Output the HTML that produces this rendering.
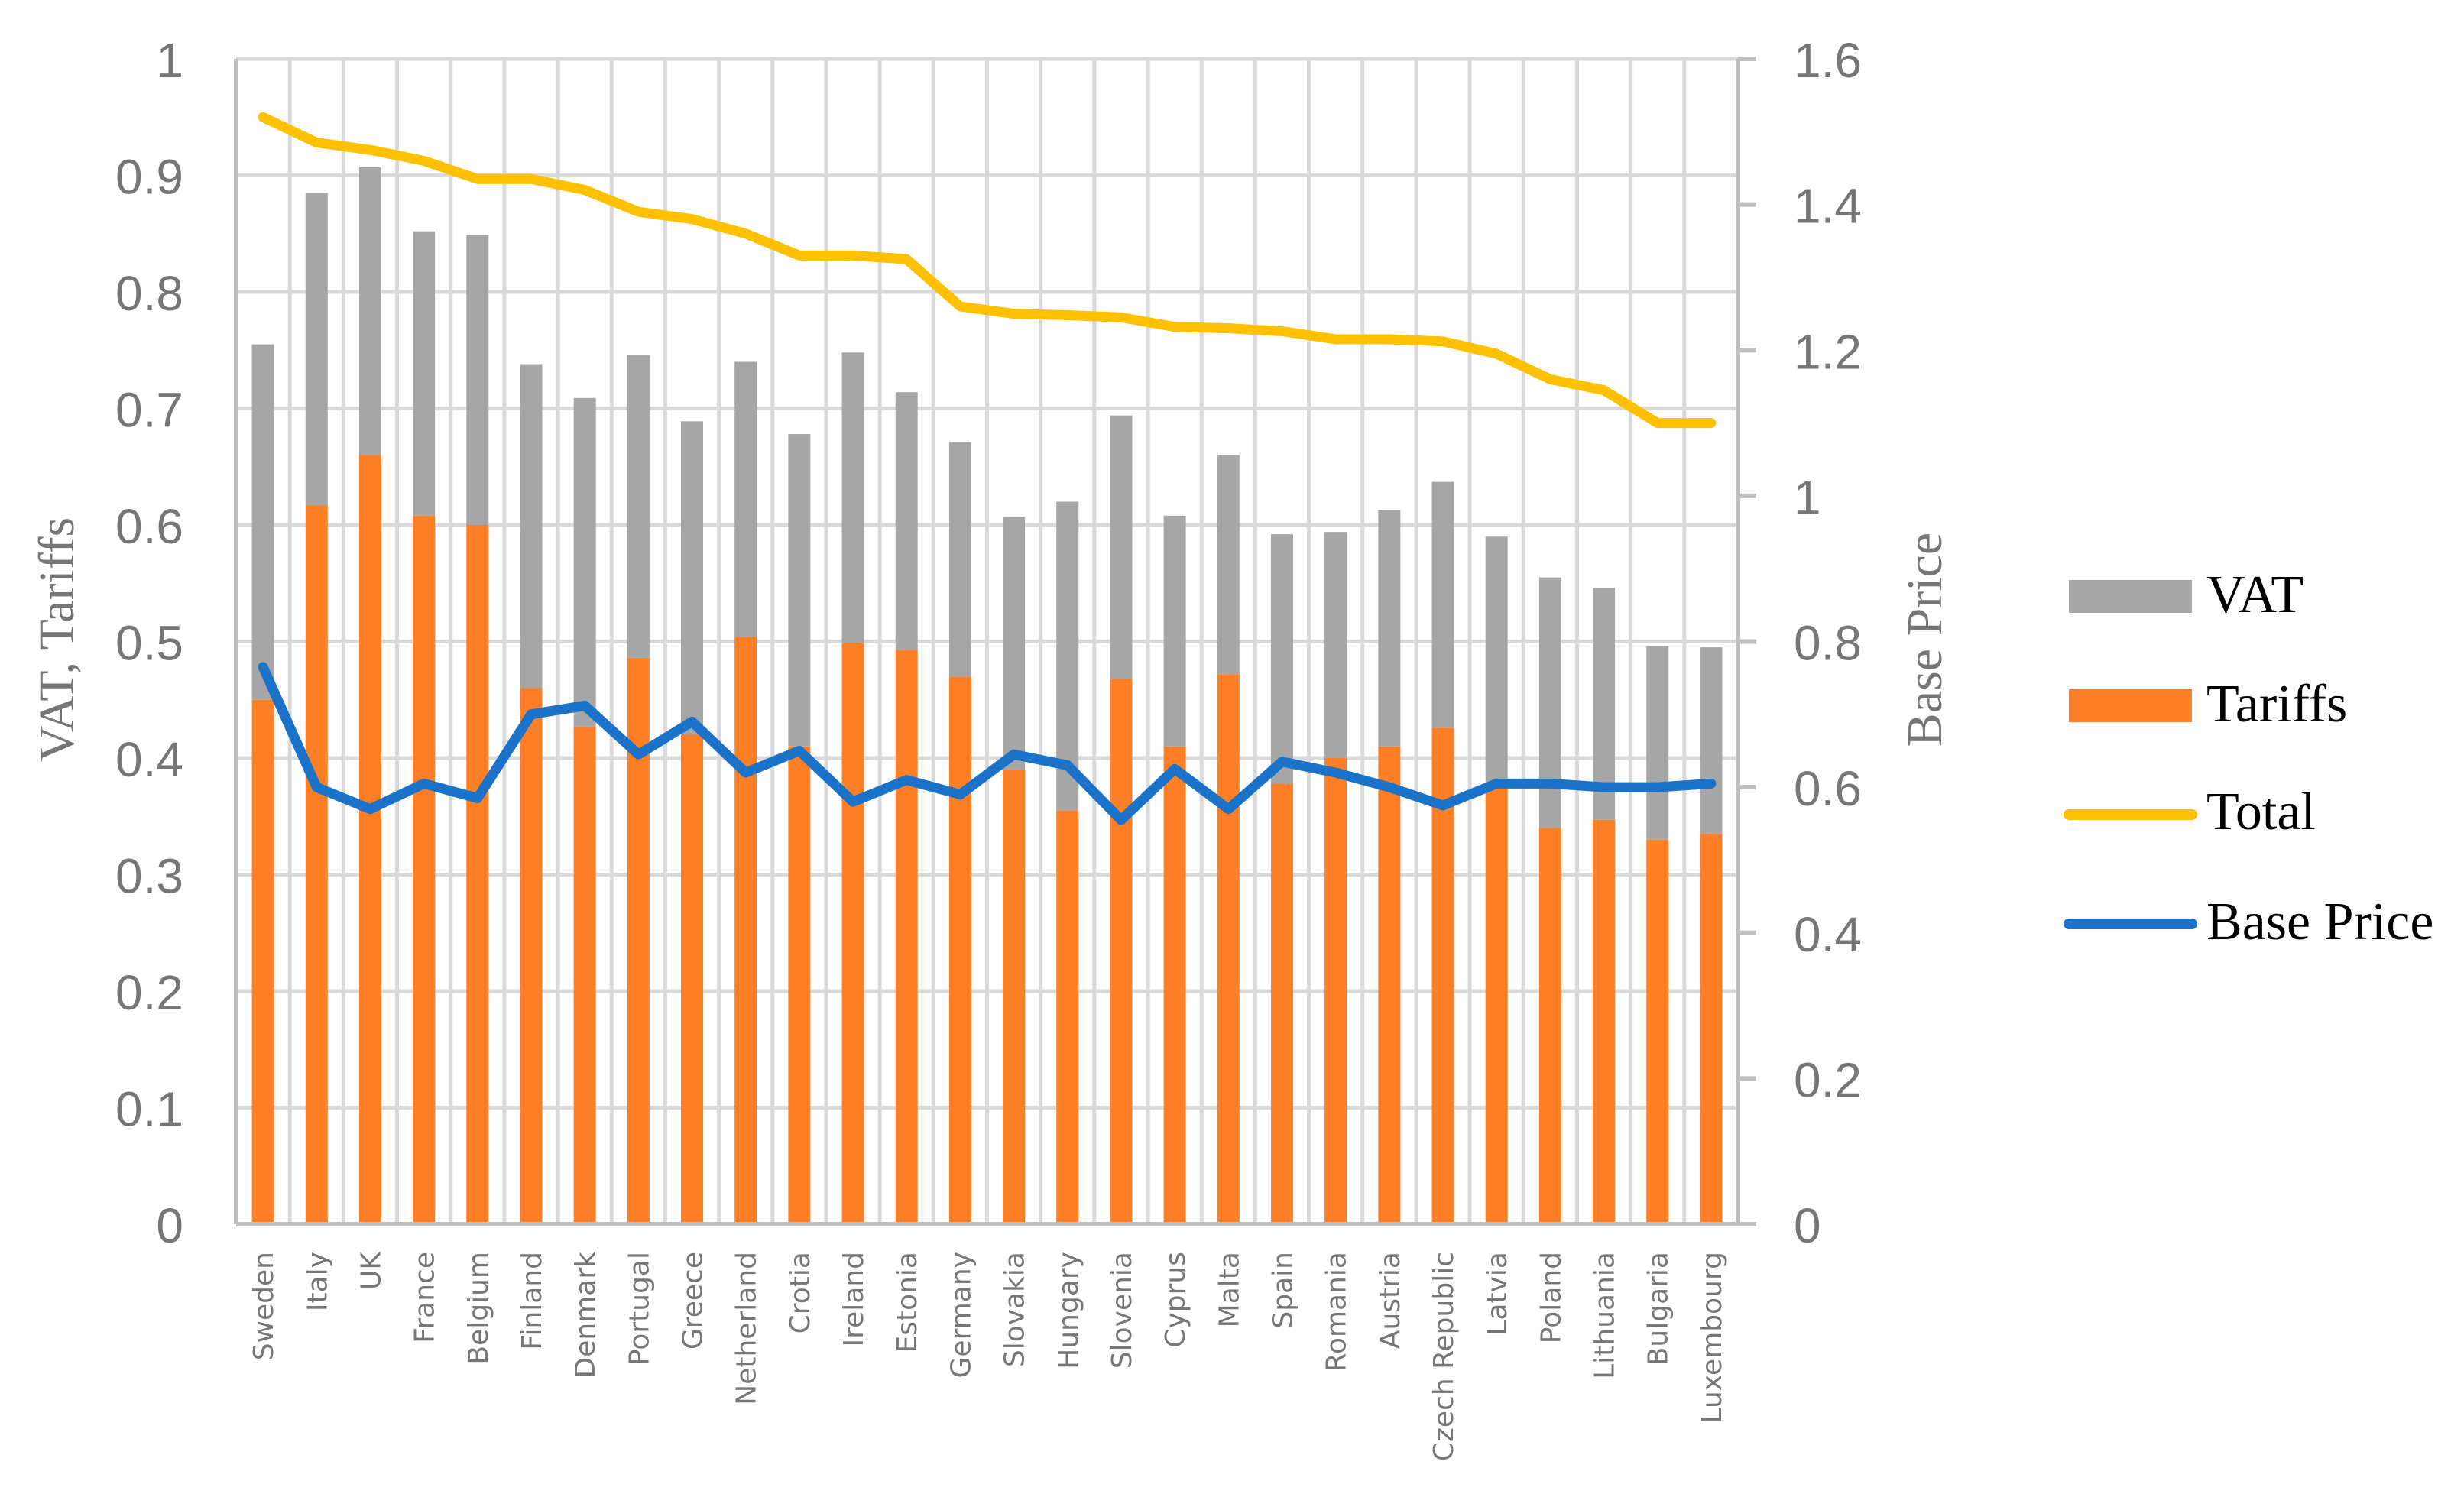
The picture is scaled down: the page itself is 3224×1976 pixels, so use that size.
<!DOCTYPE html>
<html><head><meta charset="utf-8"><style>
html,body{margin:0;padding:0;background:#fff;}
svg{display:block;}
</style></head><body>
<svg id="chart" width="3224" height="1976" viewBox="0 0 3224 1976" xmlns="http://www.w3.org/2000/svg">
<g id="grid"></g>
<g id="bars"></g>
<g id="lines"></g>
<g id="axes"></g>
<text transform="translate(96,837) rotate(-90)" text-anchor="middle" font-family="Liberation Serif, serif" font-size="66" fill="#767676">VAT, Tariffs</text>
<text transform="translate(2540,837) rotate(-90)" text-anchor="middle" font-family="Liberation Serif, serif" font-size="66" fill="#767676">Base Price</text>
<g font-family="Liberation Serif, serif" font-size="70" fill="#000">
  <g><rect x="2707" y="759" width="161" height="43" fill="#A6A6A6"/><text x="2887" y="801">VAT</text></g>
  <g><rect x="2707" y="902" width="161" height="43" fill="#FF7F27"/><text x="2887" y="944">Tariffs</text></g>
  <g><line x1="2707" y1="1066" x2="2868" y2="1066" stroke="#FFC000" stroke-width="14" stroke-linecap="round"/><text x="2887" y="1085">Total</text></g>
  <g><line x1="2707" y1="1209" x2="2868" y2="1209" stroke="#1A73C8" stroke-width="14" stroke-linecap="round"/><text x="2887" y="1229">Base Price</text></g>
</g>
</svg>
<script>
const categories = ["Sweden","Italy","UK","France","Belgium","Finland","Denmark","Portugal","Greece","Netherland","Crotia","Ireland","Estonia","Germany","Slovakia","Hungary","Slovenia","Cyprus","Malta","Spain","Romania","Austria","Czech Republic","Latvia","Poland","Lithuania","Bulgaria","Luxembourg"];
const tariffs = [0.45,0.617,0.66,0.608,0.60,0.46,0.427,0.486,0.42,0.504,0.41,0.499,0.493,0.47,0.39,0.355,0.468,0.41,0.472,0.378,0.40,0.41,0.426,0.375,0.34,0.347,0.33,0.335];
const vat = [0.305,0.268,0.247,0.244,0.249,0.278,0.282,0.26,0.269,0.236,0.268,0.249,0.221,0.201,0.217,0.265,0.226,0.198,0.188,0.214,0.194,0.203,0.211,0.215,0.215,0.199,0.166,0.16];
const total = [1.52,1.485,1.475,1.46,1.435,1.435,1.42,1.39,1.38,1.36,1.33,1.33,1.325,1.26,1.25,1.248,1.245,1.232,1.23,1.226,1.215,1.215,1.212,1.195,1.16,1.145,1.10,1.10];
const basePrice = [0.765,0.60,0.57,0.605,0.585,0.70,0.712,0.645,0.69,0.62,0.65,0.58,0.61,0.59,0.645,0.63,0.555,0.625,0.57,0.635,0.62,0.60,0.575,0.605,0.605,0.60,0.60,0.605];
const leftTicks = ["0","0.1","0.2","0.3","0.4","0.5","0.6","0.7","0.8","0.9","1"];
const rightTicks = ["0","0.2","0.4","0.6","0.8","1","1.2","1.4","1.6"];

const NS="http://www.w3.org/2000/svg";
const X0=309, X1=2274, Y0=1602, Y1=77;
const step=(X1-X0)/categories.length;
const yL=v=>Y0-(v/1)*(Y0-Y1);
const yR=v=>Y0-(v/1.6)*(Y0-Y1);
const xC=i=>X0+step*(i+0.5);
function mk(tag,attrs,parent){const e=document.createElementNS(NS,tag);for(const k in attrs)e.setAttribute(k,attrs[k]);parent.appendChild(e);return e;}
const grid=document.getElementById('grid'),bars=document.getElementById('bars'),lines=document.getElementById('lines'),axes=document.getElementById('axes');
leftTicks.forEach((t,i)=>{const v=parseFloat(t);if(v===0)return;
 const l=mk('line',{x1:X0,x2:X1,y1:yL(v),y2:yL(v),stroke:'#D9D9D9','stroke-width':5},grid);
 
 });
for(let i=1;i<categories.length;i++){
 const l=mk('line',{x1:X0+step*i,x2:X0+step*i,y1:Y1,y2:Y0,stroke:'#D9D9D9','stroke-width':5},grid);
 
 }
const bw=29;
categories.forEach((c,i)=>{
 const t=mk('rect',{x:xC(i)-bw/2,y:yL(tariffs[i]),width:bw,height:Y0-yL(tariffs[i]),fill:'#FF7F27'},bars);
 
 
 const top=tariffs[i]+vat[i];
 const v=mk('rect',{x:xC(i)-bw/2,y:yL(top),width:bw,height:yL(tariffs[i])-yL(top),fill:'#A6A6A6'},bars);
 
 
});
const tp=mk('polyline',{points:total.map((v,i)=>xC(i)+','+yR(v)).join(' '),fill:'none',stroke:'#FFC000','stroke-width':13,'stroke-linejoin':'round','stroke-linecap':'round'},lines);


const bp=mk('polyline',{points:basePrice.map((v,i)=>xC(i)+','+yR(v)).join(' '),fill:'none',stroke:'#1A73C8','stroke-width':13,'stroke-linejoin':'round','stroke-linecap':'round'},lines);


const al=mk('line',{x1:X0,x2:X0,y1:Y1,y2:Y0,stroke:'#BFBFBF','stroke-width':6},axes);


const ar=mk('line',{x1:X1,x2:X1,y1:Y1,y2:Y0,stroke:'#BFBFBF','stroke-width':6},axes);


const ab=mk('line',{x1:X0,x2:X1+24,y1:Y0,y2:Y0,stroke:'#BFBFBF','stroke-width':6},axes);


leftTicks.forEach(t=>{
 const e=mk('text',{x:240,y:yL(parseFloat(t))+24,'text-anchor':'end','font-family':'Liberation Sans, sans-serif','font-size':64,fill:'#767676'},axes);
 e.textContent=t;
 
 });
rightTicks.forEach(t=>{
 const y=yR(parseFloat(t));
 const tk=mk('line',{x1:X1,x2:X1+24,y1:y,y2:y,stroke:'#BFBFBF','stroke-width':6},axes);
 
 
 const e=mk('text',{x:2347,y:y+24,'text-anchor':'start','font-family':'Liberation Sans, sans-serif','font-size':64,fill:'#767676'},axes);
 e.textContent=t;
 
 });
categories.forEach((c,i)=>{
 const e=mk('text',{transform:'translate('+(xC(i)+13)+',1638) rotate(-90)','text-anchor':'end','font-family':'DejaVu Sans, sans-serif','font-size':36,fill:'#767676'},axes);
 e.textContent=c;
 
 });
</script>
</body></html>
